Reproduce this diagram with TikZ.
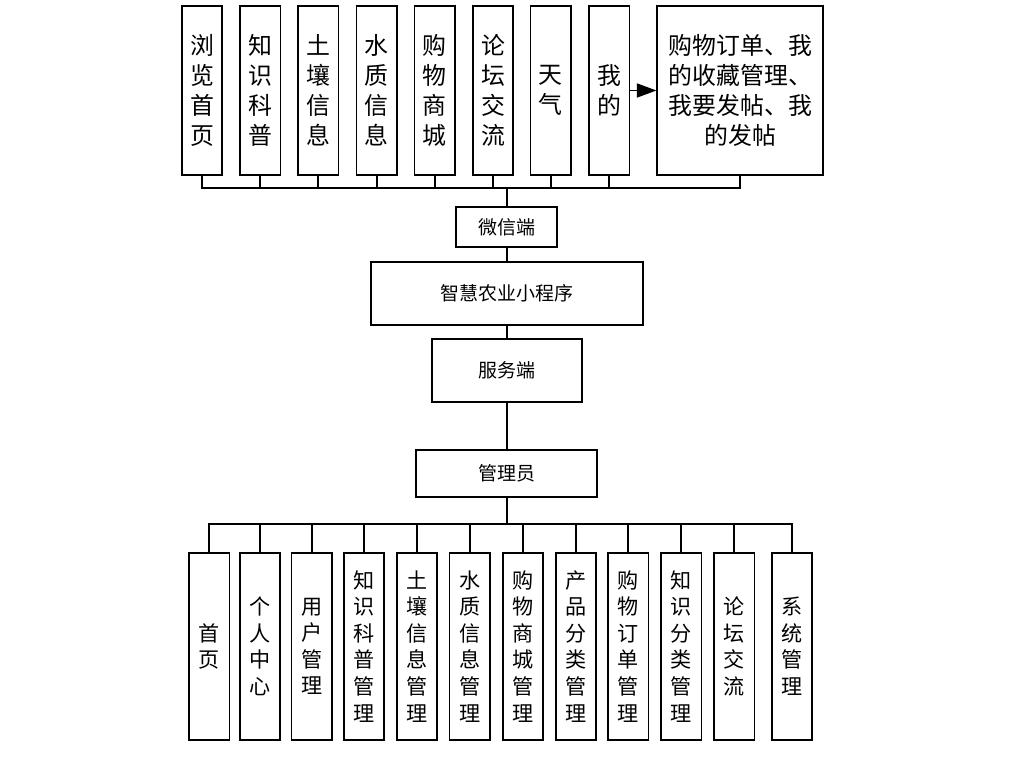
\documentclass[tikz,border=0pt]{standalone}
\usepackage{fontspec}
\setmainfont{Noto Sans CJK SC}
\usetikzlibrary{arrows.meta}

\begin{document}
\begin{tikzpicture}[
  x=0.025cm, y=-0.025cm,
  line width=1.2pt,
  topbox/.style={draw,inner sep=0pt,align=center,minimum width=1.01cm,minimum height=4.22cm,font=\fontsize{17}{21.3}\selectfont},
  midbox/.style={draw,inner sep=0pt,align=center,font=\fontsize{13.5}{16}\selectfont},
  botbox/.style={draw,inner sep=0pt,align=center,minimum width=1.01cm,minimum height=4.68cm,font=\fontsize{15}{18.9}\selectfont}
]
\useasboundingbox (0,0) rectangle (1024,760);

% top row
\node[topbox] (t1) at (202,90.5) {浏\\览\\首\\页};
\node[topbox] (t2) at (260.3,90.5) {知\\识\\科\\普};
\node[topbox] (t3) at (318.3,90.5) {土\\壤\\信\\息};
\node[topbox] (t4) at (376.7,90.5) {水\\质\\信\\息};
\node[topbox] (t5) at (434.7,90.5) {购\\物\\商\\城};
\node[topbox] (t6) at (493,90.5) {论\\坛\\交\\流};
\node[topbox] (t7) at (550.8,90.5) {天\\气};
\node[topbox] (t8) at (609.2,90.5) {我\\的};
\node[topbox,minimum width=4.15cm] (wd) at (740.3,90.5) {购物订单、我\\的收藏管理、\\我要发帖、我\\的发帖};
\draw[-{Triangle[length=14pt,width=10pt]}] (t8.east) -- (wd.west);

% middle
\node[midbox,minimum width=2.53cm,minimum height=1cm] (wx) at (506.7,227.3) {微信端};
\node[midbox,minimum width=6.8cm,minimum height=1.58cm] (xcx) at (506.7,293.3) {智慧农业小程序};
\node[midbox,minimum width=3.75cm,minimum height=1.56cm] (fwd) at (506.7,370.5) {服务端};
\node[midbox,minimum width=4.52cm,minimum height=1.17cm] (gly) at (506.7,473.3) {管理员};

\coordinate (busT) at (506.7,188.3);
\coordinate (busB) at (506.7,524);

\draw (t1.south) |- (busT) (t2.south) |- (busT) (t3.south) |- (busT)
      (t4.south) |- (busT) (t5.south) |- (busT) (t6.south) |- (busT)
      (t7.south) |- (busT) (t8.south) |- (busT) (wd.south) |- (busT);
\draw (busT) -- (wx);
\draw (wx) -- (xcx);
\draw (xcx) -- (fwd);
\draw (fwd) -- (gly);
\draw (gly) -- (busB);

% bottom row
\node[botbox] (b1) at (209.3,646.3) {首\\页};
\node[botbox] (b2) at (260,646.3) {个\\人\\中\\心};
\node[botbox] (b3) at (311.7,646.3) {用\\户\\管\\理};
\node[botbox] (b4) at (364,646.3) {知\\识\\科\\普\\管\\理};
\node[botbox] (b5) at (417,646.3) {土\\壤\\信\\息\\管\\理};
\node[botbox] (b6) at (469.7,646.3) {水\\质\\信\\息\\管\\理};
\node[botbox] (b7) at (523,646.3) {购\\物\\商\\城\\管\\理};
\node[botbox] (b8) at (576,646.3) {产\\品\\分\\类\\管\\理};
\node[botbox] (b9) at (628.3,646.3) {购\\物\\订\\单\\管\\理};
\node[botbox] (b10) at (681.3,646.3) {知\\识\\分\\类\\管\\理};
\node[botbox] (b11) at (734.2,646.3) {论\\坛\\交\\流};
\node[botbox] (b12) at (792,646.3) {系\\统\\管\\理};

\draw (busB) -| (b1.north) (busB) -| (b2.north) (busB) -| (b3.north)
      (busB) -| (b4.north) (busB) -| (b5.north) (busB) -| (b6.north)
      (busB) -| (b7.north) (busB) -| (b8.north) (busB) -| (b9.north)
      (busB) -| (b10.north) (busB) -| (b11.north) (busB) -| (b12.north);
\end{tikzpicture}
\end{document}
